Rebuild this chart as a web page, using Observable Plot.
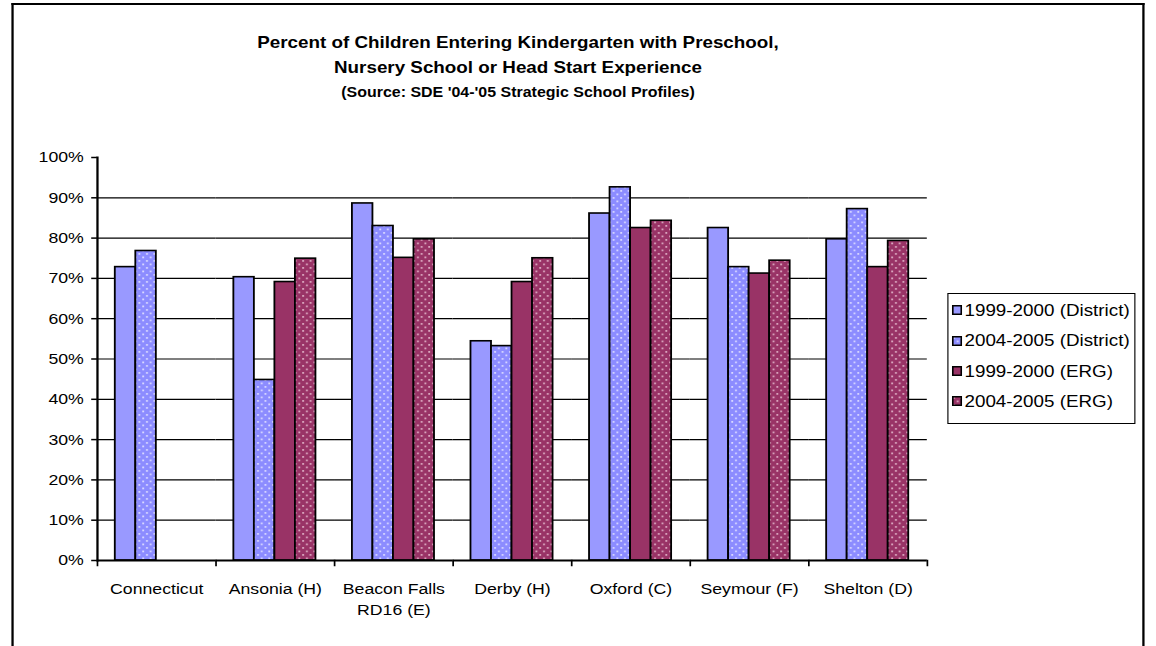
<!DOCTYPE html>
<html>
<head>
<meta charset="utf-8">
<script src="https://cdn.jsdelivr.net/npm/d3@7"></script>
<script src="https://cdn.jsdelivr.net/npm/@observablehq/plot@0.6"></script>
<style>
  html, body { margin: 0; padding: 0; background: #fff; overflow: hidden; width: 1156px; height: 646px; }
  #page { position: absolute; left: 0; top: 0; width: 1014px; height: 646px; transform: scaleX(1.14); transform-origin: 0 0;
          font-family: "Liberation Sans", Arial, sans-serif; color: #000; }
  #frame { position: absolute; left: 10px; top: 3px; width: 993.6px; height: 700px; border: 2px solid #000; border-bottom: none; box-sizing: border-box; }
  .tline { position: absolute; left: 54.4px; width: 800px; text-align: center; font-weight: bold; white-space: nowrap; }
  #chart { position: absolute; left: 0; top: 0; }
  #legend { position: absolute; left: 830.85px; top: 293.25px; width: 165.5px; height: 130.5px; border: 1.5px solid #000; box-sizing: border-box; background: #fff; }
  .litem { position: absolute; left: 0; height: 20px; font-size: 16.5px; line-height: 20px; white-space: nowrap; }
  .litem svg { position: absolute; left: 3.6px; top: 5.5px; }
  .litem span { position: absolute; left: 14.2px; top: 0; }
</style>
</head>
<body>
<svg width="0" height="0" style="position:absolute">
  <defs>
    <pattern id="dotDistrict" patternUnits="userSpaceOnUse" width="6.6" height="7">
      <rect width="6.6" height="7" fill="#8c8cff"></rect>
      <rect x="1" y="1" width="1.6" height="1.8" fill="#d8d8ff"></rect>
      <rect x="4.3" y="4.5" width="1.6" height="1.8" fill="#d8d8ff"></rect>
    </pattern>
    <pattern id="dotERG" patternUnits="userSpaceOnUse" width="6.6" height="7">
      <rect width="6.6" height="7" fill="#993366"></rect>
      <rect x="1" y="1" width="1.6" height="1.8" fill="#dba8c0"></rect>
      <rect x="4.3" y="4.5" width="1.6" height="1.8" fill="#dba8c0"></rect>
    </pattern>
  </defs>
</svg>
<div id="page">
  <div id="frame"></div>
  <div class="tline" style="top:33.3px;font-size:16.5px;line-height:19.8px;">Percent of Children Entering Kindergarten with Preschool,</div>
  <div class="tline" style="top:58.3px;font-size:16.5px;line-height:19.8px;">Nursery School or Head Start Experience</div>
  <div class="tline" style="top:83.7px;font-size:14px;line-height:16.8px;">(Source: SDE '04-'05 Strategic School Profiles)</div>
  <div id="chart"></div>
  <div id="legend"></div>
</div>
<script>
// ---- data ----
const categories = ["Connecticut", "Ansonia (H)", "Beacon Falls RD16 (E)", "Derby (H)", "Oxford (C)", "Seymour (F)", "Shelton (D)"];
const categoryLabels = ["Connecticut", "Ansonia (H)", "Beacon Falls\nRD16 (E)", "Derby (H)", "Oxford (C)", "Seymour (F)", "Shelton (D)"];
const series = ["1999-2000 (District)", "2004-2005 (District)", "1999-2000 (ERG)", "2004-2005 (ERG)"];
const district1999 = [72.8, 70.3, 88.6, 54.4, 86.1, 82.5, 79.7];
const district2004 = [76.8, 44.8, 83.0, 53.2, 92.6, 72.8, 87.2];
const erg1999 = [null, 69.1, 75.1, 69.1, 82.5, 71.2, 72.8];
const erg2004 = [null, 74.9, 79.7, 75.0, 84.3, 74.4, 79.3];
const yTicks = [0, 10, 20, 30, 40, 50, 60, 70, 80, 90, 100];
const gridValues = [10, 20, 30, 40, 50, 60, 70, 80, 90];
const seriesFills = ["#9999FF", "url(#dotDistrict)", "#993366", "url(#dotERG)"];

const valuesBySeries = [district1999, district2004, erg1999, erg2004];
const data = [];
categories.forEach((c, i) => {
  valuesBySeries.forEach((arr, j) => {
    if (arr[i] != null) data.push({category: c, series: series[j], value: arr[i]});
  });
});

const W = 1014, H = 646, mT = 157, mB = 86;
const frameH = H - mT - mB;

const chart = Plot.plot({
  width: W, height: H,
  marginLeft: 83.3, marginRight: 200, marginTop: mT, marginBottom: mB,
  style: {fontFamily: "'Liberation Sans', Arial, sans-serif", fontSize: "15.5px", color: "#000", background: "transparent", overflow: "visible"},
  fx: {domain: categories, padding: 0, label: null},
  x: {domain: series, paddingInner: 0, paddingOuter: 0.75, axis: null},
  y: {domain: [0, 100], label: null},
  color: {type: "identity"},
  marks: [
    Plot.ruleY(gridValues, {stroke: "#000", strokeWidth: 1.2}),
    Plot.barY(data, {fx: "category", x: "series", y: "value",
      fill: d => seriesFills[series.indexOf(d.series)], stroke: "#000", strokeWidth: 1.6}),
    Plot.ruleY([0], {stroke: "#000", strokeWidth: 2}),
    Plot.frame({anchor: "left", facetAnchor: "left", stroke: "#000", strokeWidth: 2}),
    Plot.frame({anchor: "left", insetTop: frameH, insetBottom: -5, stroke: "#000", strokeWidth: 1.5}),
    Plot.frame({anchor: "right", facetAnchor: "right", insetTop: frameH, insetBottom: -5, stroke: "#000", strokeWidth: 1.5}),
    Plot.axisY({ticks: yTicks, tickFormat: d => d + "%", tickSize: 5, tickPadding: 7, strokeWidth: 1.5, fontSize: 15.5, label: null}),
    Plot.axisFx({anchor: "bottom", tickSize: 0, tickPadding: 19, fontSize: 15.5, lineHeight: 1.35, label: null,
      tickFormat: d => categoryLabels[categories.indexOf(d)]})
  ]
});
document.getElementById("chart").appendChild(chart);

// ---- legend ----
const legend = document.getElementById("legend");
const rowCenters = [17, 47.5, 78, 108];
series.forEach((s, i) => {
  const item = document.createElement("div");
  item.className = "litem";
  item.style.top = (rowCenters[i] - 1.5 - 10) + "px";
  item.innerHTML = `<svg width="9" height="10"><rect x="0.75" y="0.75" width="7.5" height="8.5" fill="${seriesFills[i]}" stroke="#000" stroke-width="1.5"></rect></svg><span>${s}</span>`;
  legend.appendChild(item);
});
</script>
</body>
</html>
